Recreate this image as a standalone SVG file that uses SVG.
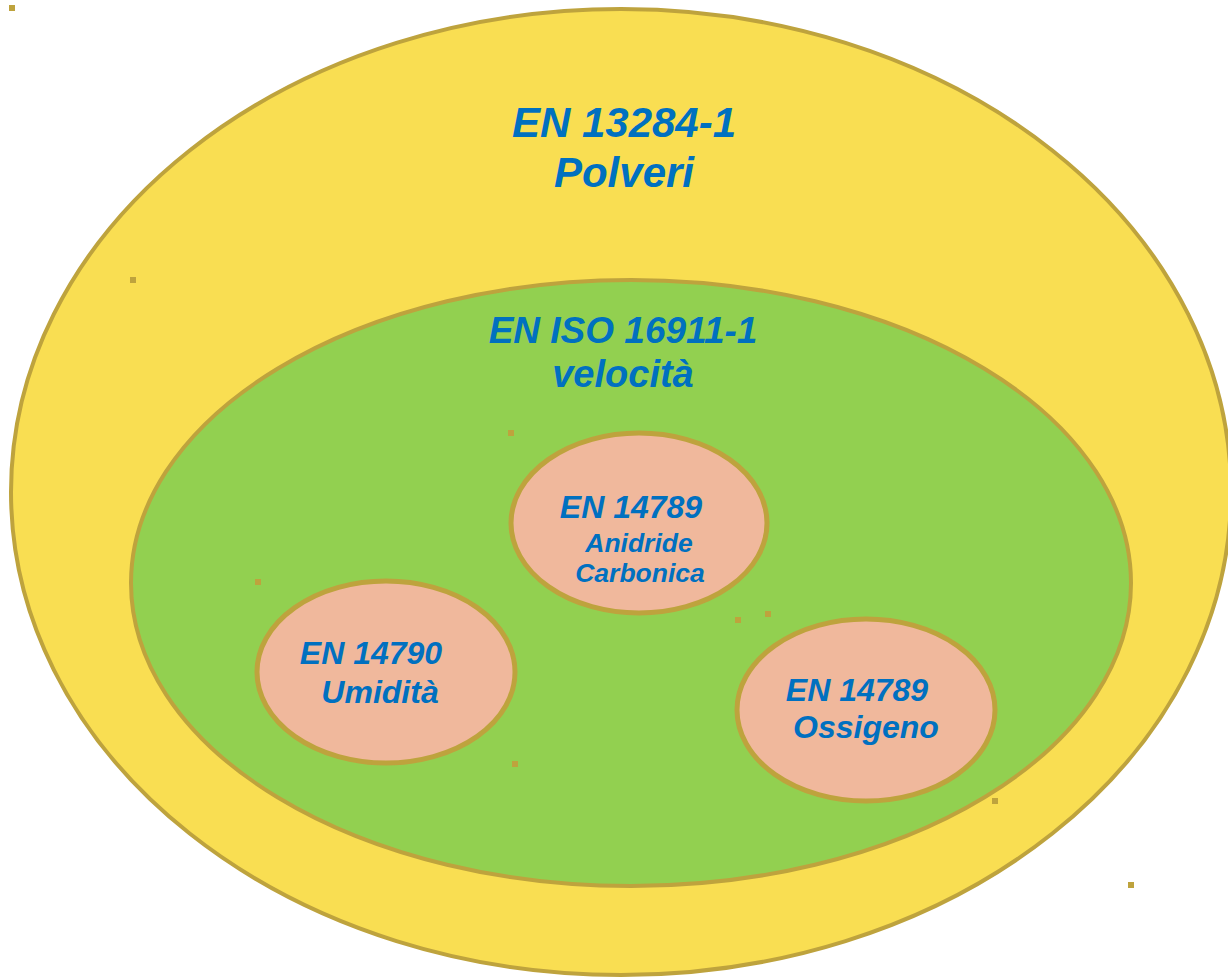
<svg xmlns="http://www.w3.org/2000/svg" width="1228" height="977" viewBox="0 0 1228 977">
  <style>
    .ring { stroke: #BEA33D; stroke-width: 4; }
    .outer { fill: #F9DE52; }
    .middle { fill: #92D050; }
    .inner { fill: #F0B89C; stroke-width: 5; }
    .lbl { font-family: "Liberation Sans", Arial, sans-serif; font-weight: bold; font-style: italic; fill: #0070C0; text-anchor: middle; }
    .dot { fill: #BEA33D; }
  </style>
  <rect width="1228" height="977" fill="#FFFFFF"/>

  <g id="polveri">
    <ellipse class="ring outer" cx="621" cy="492" rx="610" ry="483"/>
    <text class="lbl" x="624" y="137" font-size="42">EN 13284-1</text>
    <text class="lbl" x="624" y="187" font-size="42">Polveri</text>
  </g>

  <g id="velocita">
    <ellipse class="ring middle" cx="631" cy="583" rx="500" ry="303"/>
    <text class="lbl" x="623" y="343" font-size="37">EN ISO 16911-1</text>
    <text class="lbl" x="623" y="387" font-size="38">velocità</text>
  </g>

  <g id="anidride-carbonica">
    <ellipse class="ring inner" cx="639" cy="523" rx="128" ry="90"/>
    <text class="lbl" x="631" y="518" font-size="32">EN 14789</text>
    <text class="lbl" x="639" y="552" font-size="26.5">Anidride</text>
    <text class="lbl" x="640" y="582" font-size="26.5">Carbonica</text>
  </g>

  <g id="umidita">
    <ellipse class="ring inner" cx="386" cy="672" rx="129" ry="91"/>
    <text class="lbl" x="371" y="664" font-size="32">EN 14790</text>
    <text class="lbl" x="380" y="703" font-size="32">Umidità</text>
  </g>

  <g id="ossigeno">
    <ellipse class="ring inner" cx="866" cy="710" rx="129" ry="91"/>
    <text class="lbl" x="857" y="701" font-size="32">EN 14789</text>
    <text class="lbl" x="866" y="738" font-size="32">Ossigeno</text>
  </g>

  <g id="connectors"/>

  <!-- small handle squares scattered over the figure -->
  <g id="markers">
    <rect class="dot" x="9" y="5" width="6" height="6"/>
    <rect class="dot" x="130" y="277" width="6" height="6"/>
    <rect class="dot" x="508" y="430" width="6" height="6"/>
    <rect class="dot" x="255" y="579" width="6" height="6"/>
    <rect class="dot" x="735" y="617" width="6" height="6"/>
    <rect class="dot" x="765" y="611" width="6" height="6"/>
    <rect class="dot" x="512" y="761" width="6" height="6"/>
    <rect class="dot" x="992" y="798" width="6" height="6"/>
    <rect class="dot" x="1128" y="882" width="6" height="6"/>
  </g>
</svg>
